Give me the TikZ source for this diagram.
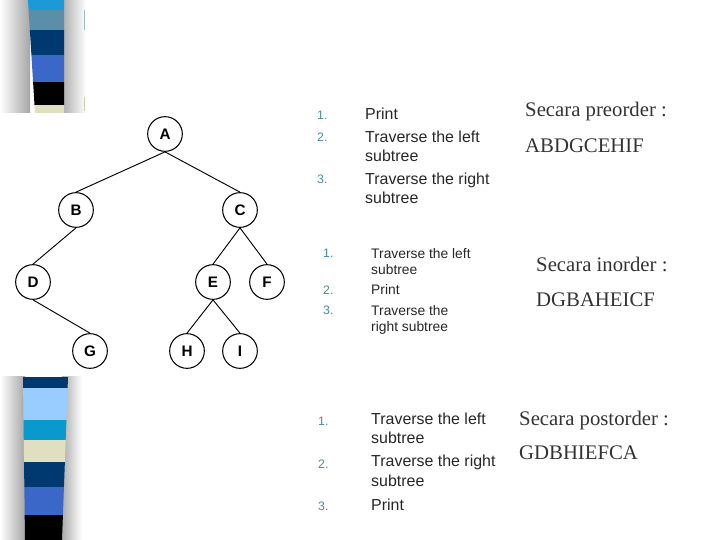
\documentclass[tikz,border=0pt]{standalone}
\usepackage{fontspec}
\setmainfont{Liberation Sans}
\newfontfamily\timesfont{Liberation Serif}
\definecolor{numteal}{RGB}{70,140,160}
\definecolor{skyband}{RGB}{27,154,214}
\definecolor{steelband}{RGB}{91,143,169}
\definecolor{navyband}{RGB}{0,56,112}
\definecolor{royalband}{RGB}{59,104,200}
\definecolor{beigeband}{RGB}{224,224,192}
\definecolor{paleband}{RGB}{153,204,255}
\definecolor{cyanband}{RGB}{10,153,204}
\begin{document}
\begin{tikzpicture}[x=0.03cm,y=-0.03cm,
  nd/.style={draw,circle,line width=0.9pt,minimum size=1.04cm,inner sep=0pt,font=\fontsize{13}{13}\selectfont\bfseries},
  edge/.style={line width=0.8pt},
  num/.style={anchor=base west,inner sep=0pt,text=numteal,font=\fontsize{10.5}{10.5}\selectfont},
  item/.style={anchor=base west,inner sep=0pt,align=left,text=black!85,font=\fontsize{13.6}{16.6}\selectfont},
  itemsm/.style={anchor=base west,inner sep=0pt,align=left,text=black!85,font=\fontsize{11.8}{14.5}\selectfont},
  hd/.style={anchor=base west,inner sep=0pt,text=black!80,font=\timesfont\fontsize{17.7}{17.7}\selectfont}]
\useasboundingbox (0,0) rectangle (720,540);
% side stripe, top part
\shade[left color=white,right color=gray!70] (0,0) rectangle (30,113);
\shade[left color=gray!65,right color=white] (62,0) rectangle (86,113);
\begin{scope}
  \clip (28,0) -- (64,0) -- (64,113) -- (35,113) -- cycle;
  \fill[skyband] (0,0) rectangle (70,10);
  \fill[steelband] (0,10) rectangle (70,30);
  \fill[navyband] (0,30) rectangle (70,55);
  \fill[royalband] (0,55) rectangle (70,82);
  \fill[black] (0,82) rectangle (70,105);
  \fill[beigeband] (0,105) rectangle (70,113);
\end{scope}
\draw[steelband!60,line width=0.6pt] (84,10) -- (84,30);
\draw[beigeband!80!gray,line width=0.6pt] (84,97) -- (84,111);
% side stripe, bottom part
\shade[left color=white,right color=gray!70] (0,377) rectangle (25,540);
\shade[left color=gray!65,right color=white] (62,377) rectangle (82,540);
\begin{scope}
  \clip (23,377) -- (68,377) -- (62,540) -- (25,540) -- cycle;
  \fill[navyband] (0,377) rectangle (70,388);
  \fill[paleband] (0,388) rectangle (70,420);
  \fill[cyanband] (0,420) rectangle (70,440);
  \fill[beigeband] (0,440) rectangle (70,462);
  \fill[navyband] (0,462) rectangle (70,487);
  \fill[royalband] (0,487) rectangle (70,515);
  \fill[black] (0,515) rectangle (70,540);
\end{scope}
% tree
\node[nd] (A) at (165,134) {A};
\node[nd] (B) at (76,210) {B};
\node[nd] (C) at (240,210) {C};
\node[nd] (D) at (33,282) {D};
\node[nd] (E) at (213,282) {E};
\node[nd] (F) at (267,282) {F};
\node[nd] (G) at (90,351) {G};
\node[nd] (H) at (187,351) {H};
\node[nd] (I) at (240,351) {I};
\draw[edge] (A.south) -- (B.north);
\draw[edge] (A.south) -- (C.north);
\draw[edge] (B.south) -- (D.north);
\draw[edge] (D.south) -- (G.north);
\draw[edge] (C.south) -- (E.north);
\draw[edge] (C.south) -- (F.north);
\draw[edge] (E.south) -- (H.north);
\draw[edge] (E.south) -- (I.north);
% preorder (multi-line nodes sit on their last baseline)
\node[num] (pren1) at (317,120) {1.};
\node[item] (pret1) at (365,120) {Print};
\node[num] (pren2) at (317,142) {2.};
\node[item] (pret2) at (365,162) {Traverse the left\\subtree};
\node[num] (pren3) at (317,184) {3.};
\node[item] (pret3) at (365,204) {Traverse the right\\subtree};
\node[hd] (prehd) at (525,117) {Secara preorder :};
\node[hd] (preseq) at (525,153) {ABDGCEHIF};
% inorder
\node[num] (inn1) at (323,258) {1.};
\node[itemsm] (int1) at (371,275) {Traverse the left\\subtree};
\node[num] (inn2) at (323,295) {2.};
\node[itemsm] (int2) at (371,295) {Print};
\node[num] (inn3) at (323,315) {3.};
\node[itemsm] (int3) at (371,332) {Traverse the\\right subtree};
\node[hd] (inhd) at (536,272) {Secara inorder :};
\node[hd] (inseq) at (536,307) {DGBAHEICF};
% postorder
\node[num] (postn1) at (318,425) {1.};
\node[item] (postt1) at (371,444) {Traverse the left\\subtree};
\node[num] (postn2) at (318,468) {2.};
\node[item] (postt2) at (371,486) {Traverse the right\\subtree};
\node[num] (postn3) at (318,510) {3.};
\node[item] (postt3) at (371,510) {Print};
\node[hd] (posthd) at (519,425) {Secara postorder :};
\node[hd] (postseq) at (519,460) {GDBHIEFCA};
\end{tikzpicture}
\end{document}
